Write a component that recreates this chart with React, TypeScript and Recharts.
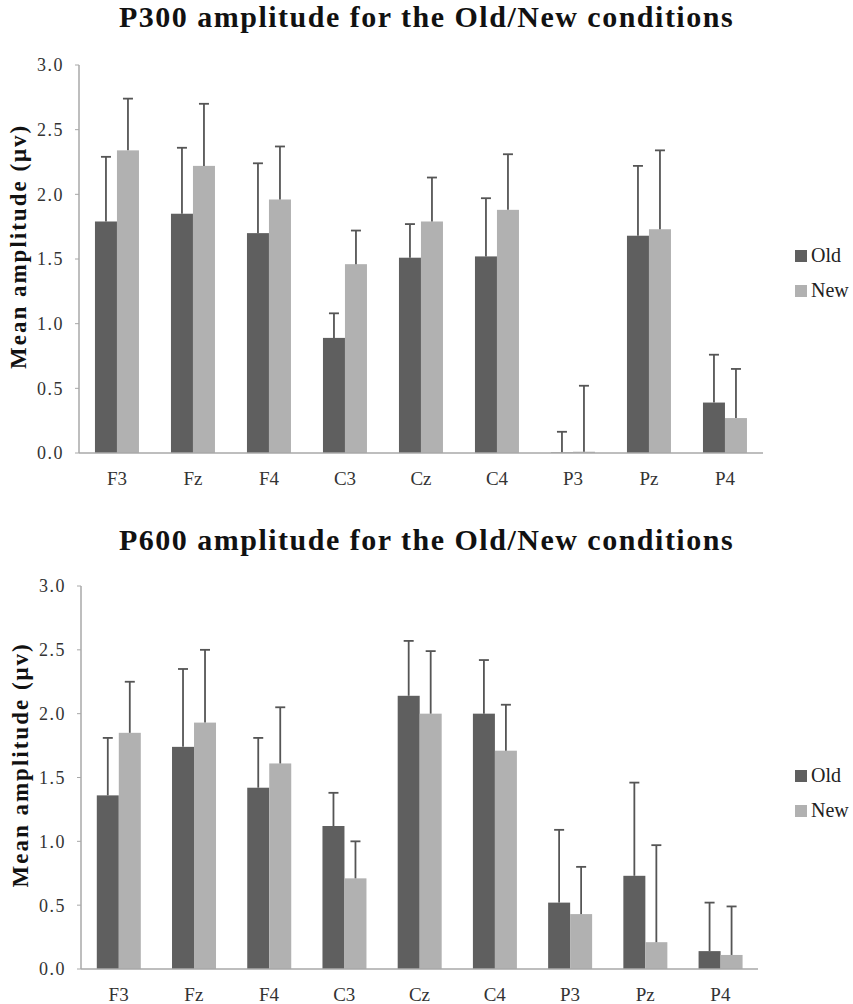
import { BarChart, Bar, XAxis, YAxis, Legend } from "recharts";

const electrodes = ["F3", "Fz", "F4", "C3", "Cz", "C4", "P3", "Pz", "P4"];
const yTicks = [0, 0.5, 1, 1.5, 2, 2.5, 3];
const seriesOrder = ["Old", "New"];

// P300
const p300Old = [1.79, 1.85, 1.7, 0.89, 1.51, 1.52, 0.004, 1.68, 0.39];
const p300OldErr = [0.5, 0.51, 0.54, 0.19, 0.26, 0.45, 0.16, 0.54, 0.37];
const p300New = [2.34, 2.22, 1.96, 1.46, 1.79, 1.88, 0.01, 1.73, 0.27];
const p300NewErr = [0.4, 0.48, 0.41, 0.26, 0.34, 0.43, 0.51, 0.61, 0.38];

// P600
const p600Old = [1.36, 1.74, 1.42, 1.12, 2.14, 2.0, 0.52, 0.73, 0.14];
const p600OldErr = [0.45, 0.61, 0.39, 0.26, 0.43, 0.42, 0.57, 0.73, 0.38];
const p600New = [1.85, 1.93, 1.61, 0.71, 2.0, 1.71, 0.43, 0.21, 0.11];
const p600NewErr = [0.4, 0.57, 0.44, 0.29, 0.49, 0.36, 0.37, 0.76, 0.38];

const OLD_COLOR = "#5f5f5f";
const NEW_COLOR = "#b1b1b1";
const AXIS_COLOR = "#a8a8a8";
const ERR_COLOR = "#555";
const FONT = "'Liberation Serif', 'Times New Roman', serif";

function buildRows(oldV: number[], oldE: number[], newV: number[], newE: number[]) {
  return electrodes.map((name, i) => ({
    name,
    old: oldV[i],
    oldErr: oldE[i],
    new: newV[i],
    newErr: newE[i],
  }));
}

// bar + upward-only error whisker (no cap at the bar end)
const barWithError = (errKey: string) => (props: any) => {
  const { x, y, width, height, fill, payload, value } = props;
  const v = Array.isArray(value) ? value[1] - value[0] : value;
  const pxPerUnit = v ? height / v : 0;
  const errPx = (payload[errKey] || 0) * pxPerUnit;
  const cx = x + width / 2;
  return (
    <g>
      <rect x={x} y={y} width={width} height={height} fill={fill} />
      <line x1={cx} x2={cx} y1={y} y2={y - errPx} stroke={ERR_COLOR} strokeWidth={1.8} />
      <line x1={cx - 5} x2={cx + 5} y1={y - errPx} y2={y - errPx} stroke={ERR_COLOR} strokeWidth={1.8} />
    </g>
  );
};

const renderLegend = (props: any) => {
  const items = [...(props.payload || [])].sort(
    (a: any, b: any) => seriesOrder.indexOf(a.value) - seriesOrder.indexOf(b.value)
  );
  return (
    <div style={{ fontFamily: FONT, fontSize: 20, color: "#222" }}>
      {items.map((entry: any) => (
        <div key={entry.value} style={{ display: "flex", alignItems: "center", height: 35 }}>
          <span
            style={{
              display: "inline-block",
              width: 12,
              height: 12,
              background: entry.color,
              marginRight: 4,
            }}
          />
          {entry.value}
        </div>
      ))}
    </div>
  );
};

type PanelProps = {
  title: string;
  data: ReturnType<typeof buildRows>;
  top: number;
  height: number;
  titleTop: number;
  plotTop: number;
  plotLeft: number;
  plotRight: number;
  bottomMargin: number;
  labelDy: number;
};

function Panel({ title, data, top, height, titleTop, plotTop, plotLeft, plotRight, bottomMargin, labelDy }: PanelProps) {
  return (
    <div style={{ position: "absolute", left: 0, top, width: 853, height }}>
      <div
        style={{
          position: "absolute",
          left: 0,
          top: titleTop,
          width: 853,
          textAlign: "center",
          fontFamily: FONT,
          fontWeight: "bold",
          fontSize: 30,
          letterSpacing: 1.5,
          color: "#111",
          whiteSpace: "nowrap",
        }}
      >
        {title}
      </div>
      <BarChart
        width={853}
        height={height}
        data={data}
        margin={{ top: plotTop, right: 853 - plotRight, bottom: bottomMargin, left: plotLeft - 49 }}
        barCategoryGap="21%"
        barGap={0}
      >
        <XAxis
          dataKey="name"
          axisLine={{ stroke: AXIS_COLOR, strokeWidth: 1.5 }}
          tickLine={false}
          height={30}
          tick={{ fontFamily: FONT, fontSize: 19, fill: "#333" }}
          tickMargin={13}
        />
        <YAxis
          domain={[0, 3]}
          ticks={yTicks}
          tickFormatter={(v: number) => v.toFixed(1)}
          width={49}
          axisLine={{ stroke: AXIS_COLOR, strokeWidth: 1.5 }}
          tickLine={{ stroke: AXIS_COLOR }}
          tickSize={4}
          tickMargin={11}
          tick={{ fontFamily: FONT, fontSize: 18, fill: "#333", letterSpacing: 1.5 }}
          label={{
            value: "Mean amplitude (μv)",
            angle: -90,
            position: "insideLeft",
            dx: -17,
            dy: labelDy,
            style: { fontFamily: FONT, fontWeight: "bold", fontSize: 23, letterSpacing: 2, fill: "#111" },
          }}
        />
        <Legend
          layout="vertical"
          align="center"
          verticalAlign="middle"
          content={renderLegend}
          wrapperStyle={{ position: "absolute", left: 795, top: 238, width: 60 }}
        />
        <Bar dataKey="old" name="Old" fill={OLD_COLOR} isAnimationActive={false} shape={barWithError("oldErr")} />
        <Bar dataKey="new" name="New" fill={NEW_COLOR} isAnimationActive={false} shape={barWithError("newErr")} />
      </BarChart>
    </div>
  );
}

export default function App() {
  const p300 = buildRows(p300Old, p300OldErr, p300New, p300NewErr);
  const p600 = buildRows(p600Old, p600OldErr, p600New, p600NewErr);
  return (
    <div style={{ position: "absolute", left: 0, top: 0, width: 853, height: 1004, background: "#fff" }}>
      <Panel
        title="P300 amplitude for the Old/New conditions"
        data={p300}
        top={0}
        height={490}
        titleTop={0}
        plotTop={65}
        plotLeft={79}
        plotRight={763}
        bottomMargin={7}
        labelDy={110}
      />
      <Panel
        title="P600 amplitude for the Old/New conditions"
        data={p600}
        top={520}
        height={484}
        titleTop={3}
        plotTop={66}
        plotLeft={81}
        plotRight={758}
        bottomMargin={5}
        labelDy={110}
      />
    </div>
  );
}
